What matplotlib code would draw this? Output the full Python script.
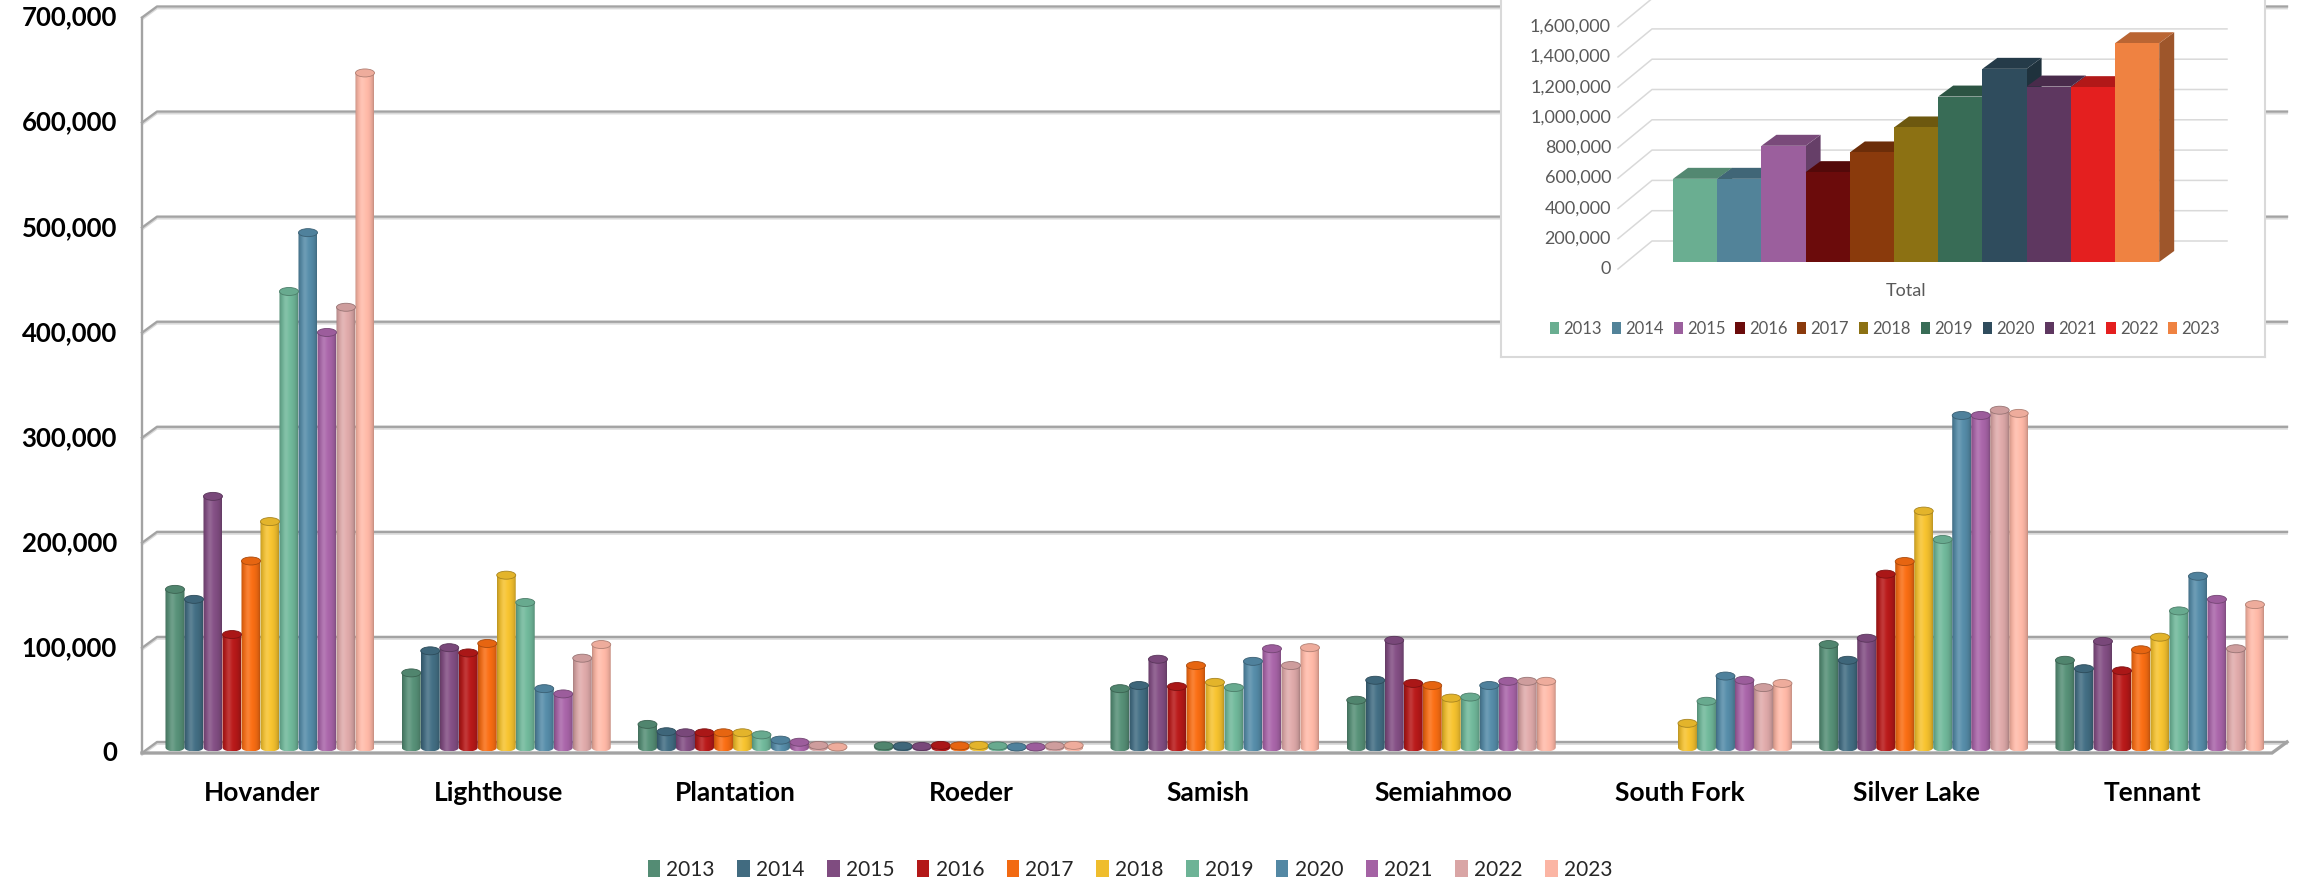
import numpy as np
import matplotlib
matplotlib.use("Agg")
import matplotlib.pyplot as plt
from matplotlib.patches import Ellipse, PathPatch, Polygon, Patch
from matplotlib.path import Path
from matplotlib.colors import to_rgb

# ---------------------------------------------------------------- data
parks = ["Hovander", "Lighthouse", "Plantation", "Roeder", "Samish",
         "Semiahmoo", "South Fork", "Silver Lake", "Tennant"]
years = ["2013", "2014", "2015", "2016", "2017", "2018",
         "2019", "2020", "2021", "2022", "2023"]

hovander    = [150500, 141000, 239000, 107500, 177500, 215000, 434000, 490000, 395000, 419000, 642000]
lighthouse  = [71000, 92000, 95000, 90000, 99000, 164000, 138000, 56000, 51000, 85000, 98000]
plantation  = [22000, 15000, 14000, 14000, 14000, 14000, 12000, 7000, 5000, 2000, 500]
roeder      = [1500, 1200, 1000, 2000, 1500, 2000, 1500, 500, 500, 1500, 2000]
samish      = [56000, 59000, 84000, 58000, 78000, 62000, 57000, 82000, 94000, 78000, 95000]
semiahmoo   = [45000, 64000, 102000, 61000, 59000, 47000, 48000, 59000, 63000, 63000, 63000]
south_fork  = [0, 0, 0, 0, 0, 23000, 44000, 68000, 64000, 57000, 61000]
silver_lake = [98000, 83000, 104000, 165000, 177000, 225000, 198000, 316000, 316000, 321000, 318000]
tennant     = [83000, 75000, 101000, 73000, 93000, 105000, 130000, 163000, 141000, 94000, 136000]

totals = [549000, 549000, 767000, 593000, 723000, 888000,
          1092000, 1275000, 1158000, 1154000, 1444000]

park_values = [hovander, lighthouse, plantation, roeder, samish,
               semiahmoo, south_fork, silver_lake, tennant]

main_colors = ['#548c74', '#416b80', '#7f4c80', '#b31818', '#f26a12', '#efbd2d',
               '#6db396', '#5388a4', '#a462a4', '#d9a5a5', '#fbb5a4']
total_colors = ['#6aae91', '#528399', '#9b5f9d', '#6b0b0b', '#8a3a0c', '#8c7113',
                '#386c56', '#2f4c5d', '#5e3760', '#e41f1f', '#ef8241']

FONT = ['Lato', 'DejaVu Sans']
plt.rcParams['font.family'] = FONT

# ---------------------------------------------------------------- figure
W, H = 2303, 885
fig = plt.figure(figsize=(W / 100, H / 100), dpi=100)
fig.patch.set_facecolor('white')

# front plane of the main 3-D column chart (pixel geometry)
L, R = 142, 2272
Y0, YTOP = 753, 17.5
YMAX = 700000
XMIN, XMAX = -0.51, 8.506
ax = fig.add_axes([L / W, (H - Y0) / H, (R - L) / W, (Y0 - YTOP) / H])
ax.set_xlim(XMIN, XMAX)
ax.set_ylim(0, YMAX)
ax.axis('off')

px_x = (R - L) / (XMAX - XMIN)
px_y = (Y0 - YTOP) / YMAX


def dx(p):
    return p / px_x


def dy(p):
    return p / px_y


BACK_DX, BACK_DY = 15, 11
GRID = '#a3a3a3'
SHADOW = '#dadada'

# back wall gridlines with their slanted left ends
for v in range(0, YMAX + 1, 100000):
    yb = v + dy(BACK_DY)
    xs = [XMIN, XMIN + dx(BACK_DX), XMAX + dx(BACK_DX)]
    ys = [v, yb, yb]
    ax.plot(xs, [y - dy(2) for y in ys], color=SHADOW, lw=1.3, clip_on=False, zorder=1)
    ax.plot(xs, ys, color=GRID, lw=1.7, clip_on=False, zorder=2)

# floor front edge, right edge and left axis line
ax.plot([XMIN, XMAX, XMAX + dx(BACK_DX)], [0, 0, dy(BACK_DY)],
        color=GRID, lw=2.4, clip_on=False, zorder=2, solid_joinstyle='miter')
ax.plot([XMIN, XMIN], [0, YMAX], color=GRID, lw=1.7, clip_on=False, zorder=2)


def cylinder_strip(rgb, n=64):
    t = (np.arange(n) + 0.5) / n
    s = np.sin(np.pi * t) ** 0.5
    body = rgb[None, :] * (0.72 + 0.32 * s)[:, None]
    hl = (np.exp(-((t - 0.36) / 0.15) ** 2) * 0.14)[:, None]
    body = body + (1 - body) * hl
    return np.clip(body, 0, 1)[None, :, :]


def draw_cylinder(xc, w, base, top, color, eh, z):
    rgb = np.array(to_rgb(color))
    x0, x1 = xc - w / 2, xc + w / 2
    th = np.linspace(np.pi, 2 * np.pi, 40)
    arc = np.column_stack([xc + w / 2 * np.cos(th), base + eh / 2 * np.sin(th)])
    verts = np.vstack([[x0, top], arc, [x1, top], [x0, top]])
    im = ax.imshow(cylinder_strip(rgb), extent=[x0, x1, base - eh / 2, top],
                   aspect='auto', interpolation='bilinear', zorder=z)
    im.set_clip_path(PathPatch(Path(verts), transform=ax.transData))
    cap = Ellipse((xc, top), w, eh, facecolor=np.clip(rgb * 0.95, 0, 1),
                  edgecolor=np.clip(rgb * 0.7, 0, 1), lw=0.6, zorder=z + 0.5)
    ax.add_patch(cap)


bar_w = dx(19)
mid_dx, mid_dy = dx(BACK_DX / 2), dy(BACK_DY / 2)
cap_h = dy(8)
z = 3.0
for i, vals in enumerate(park_values):
    for j, v in enumerate(vals):
        if v <= 0:
            continue
        xc = i + mid_dx + (j - (len(years) - 1) / 2) * bar_w
        draw_cylinder(xc, bar_w, mid_dy, mid_dy + v, main_colors[j], cap_h, z)
        z += 0.01

ax.set_xlim(XMIN, XMAX)
ax.set_ylim(0, YMAX)

# axis labels
for v in range(0, YMAX + 1, 100000):
    ax.text(XMIN - dx(25), v, f"{v:,}", ha='right', va='center',
            fontsize=18.5, fontweight='bold', color='black', clip_on=False)
for i, name in enumerate(parks):
    ax.text(i, -dy(793 - Y0), name, ha='center', va='center',
            fontsize=19, fontweight='bold', color='black', clip_on=False)

leg = fig.legend([Patch(facecolor=c, edgecolor='none') for c in main_colors], years,
                 loc='center', bbox_to_anchor=(1130 / W, 1 - 870 / H), ncol=11,
                 frameon=False, fontsize=15, handlelength=0.6, handleheight=0.85,
                 handletextpad=0.3, columnspacing=1.08, labelcolor='#262626')
leg.set_zorder(10)

# ---------------------------------------------------------------- totals chart
BOX_L, BOX_R, BOX_B = 1501, 2265, 357
bx = fig.add_axes([BOX_L / W, (H - BOX_B) / H, (BOX_R - BOX_L) / W, BOX_B / H])
bx.set_xticks([])
bx.set_yticks([])
bx.set_facecolor('white')
for s in bx.spines.values():
    s.set_color('#d9d9d9')
    s.set_linewidth(1.5)
bx.spines['top'].set_visible(False)
bx.set_zorder(5)

IL, IR, IY0, IYTOP = 1618, 2193, 269, 26.6
IMAX = 1600000
ix = fig.add_axes([IL / W, (H - IY0) / H, (IR - IL) / W, (IY0 - IYTOP) / H])
ix.set_xlim(0, IR - IL)
ix.set_ylim(0, IMAX)
ix.axis('off')
ix.set_zorder(6)
ipx_y = (IY0 - IYTOP) / IMAX


def idy(p):
    return p / ipx_y


IB_DX, IB_DY = 34, 28
for v in range(0, IMAX + 1, 200000):
    yb = v + idy(IB_DY)
    ix.plot([0, IB_DX, IR - IL + IB_DX], [v, yb, yb], color='#d9d9d9', lw=1.1,
            clip_on=False, zorder=1)
    ix.text(-7, v, f"{v:,}", ha='right', va='center', fontsize=13,
            color='#595959', clip_on=False)

col_w = 44.2
x_first = 55
ibase = idy(7)
top_dx, top_dy = 15, idy(11)
for k, (v, c) in enumerate(zip(totals, total_colors)):
    rgb = np.array(to_rgb(c))
    x0 = x_first + k * col_w
    x1 = x0 + col_w
    top = ibase + v
    zz = 2 + k * 0.1
    ix.add_patch(Polygon([(x1, ibase), (x1 + top_dx, ibase + top_dy),
                          (x1 + top_dx, top + top_dy), (x1, top)],
                         closed=True, facecolor=rgb * 0.66, edgecolor='none', zorder=zz))
    ix.add_patch(Polygon([(x0, top), (x1, top), (x1 + top_dx, top + top_dy),
                          (x0 + top_dx, top + top_dy)],
                         closed=True, facecolor=rgb * 0.78, edgecolor='none', zorder=zz + 0.01))
    ix.add_patch(Polygon([(x0, ibase), (x1, ibase), (x1, top), (x0, top)],
                         closed=True, facecolor=rgb, edgecolor='none', zorder=zz + 0.02))

ix.text(288, -idy(22), "Total", ha='center', va='center', fontsize=13,
        color='#595959', clip_on=False)

ileg = fig.legend([Patch(facecolor=c, edgecolor='none') for c in total_colors], years,
                  loc='center', bbox_to_anchor=(1885 / W, 1 - 329 / H), ncol=11,
                  frameon=False, fontsize=12, handlelength=0.55, handleheight=0.7,
                  handletextpad=0.25, columnspacing=0.6, labelcolor='#595959')
ileg.set_zorder(11)

fig.savefig("out.png", dpi=100, facecolor='white')
